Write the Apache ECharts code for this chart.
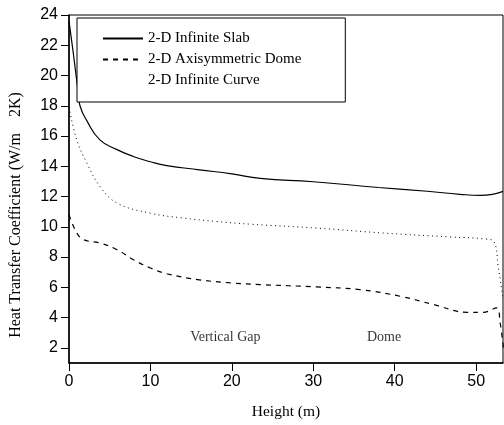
<!DOCTYPE html>
<html>
<head>
<meta charset="utf-8">
<script src="https://cdn.jsdelivr.net/npm/echarts@6/dist/echarts.min.js"></script>
<style>
  html, body { margin: 0; padding: 0; background: #fff; }
  #chart { width: 504px; height: 425px; }
</style>
</head>
<body>
<div id="chart"></div>
<script>
// values: height (m) and heat transfer coefficient
const slabX = [0, 0.5, 1.1, 1.35, 2.2, 3.8, 5.9, 7.9, 10, 12, 16, 20, 23.5, 30, 38, 44, 48, 50.5, 52, 53.3]
const slabY = [23.6, 21.6, 19.0, 18.0, 17.0, 15.75, 15.1, 14.65, 14.3, 14.05, 13.77, 13.5, 13.2, 12.98, 12.6, 12.35, 12.15, 12.08, 12.15, 12.34]

const domeX = [0, 0.95, 1.8, 3.8, 5.9, 7.9, 10, 12, 16, 20, 23.5, 30.4, 35.7, 40.7, 44.8, 48.9, 50.9, 52.5, 52.95, 53.35]
const domeY = [10.8, 9.6, 9.15, 8.93, 8.49, 7.83, 7.28, 6.9, 6.5, 6.29, 6.18, 6.03, 5.85, 5.41, 4.86, 4.35, 4.35, 4.64, 3.65, 2.0]

const curveX = [0, 0.95, 2.2, 3.8, 5.9, 10, 14, 18, 22.4, 30.4, 38.6, 46.8, 51.0, 52.2, 52.7, 53.15, 53.3]
const curveY = [17.9, 15.75, 14.2, 12.67, 11.57, 10.9, 10.58, 10.36, 10.17, 9.92, 9.59, 9.33, 9.2, 9.0, 7.4, 5.85, 5.2]

const xTicks = [0, 10, 20, 30, 40, 50]
const yTicks = [2, 4, 6, 8, 10, 12, 14, 16, 18, 20, 22, 24]

const notesX = [19.2, 38.7]
const notesY = [2.68, 2.68]
const notesText = ['Vertical Gap', 'Dome']

const names = ['2-D Infinite Slab', '2-D Axisymmetric Dome', '2-D Infinite Curve']

function pairs(xs, ys) {
  return xs.map((x, i) => [x, ys[i]])
}

const chart = echarts.init(document.getElementById('chart'))
const serif = 'Liberation Serif'
const sans = 'Liberation Sans'

const option = {
  animation: false,
  grid: {
    left: 69, right: 1, top: 15, bottom: 61.5,
    show: true, borderColor: '#000', borderWidth: 1
  },
  legend: {
    orient: 'vertical',
    left: 77, top: 18,
    padding: [13, 44, 14, 25],
    itemWidth: 40, itemHeight: 15, itemGap: 6,
    backgroundColor: '#fff',
    borderColor: '#000', borderWidth: 1,
    itemStyle: { opacity: 0 },
    textStyle: { fontFamily: serif, fontSize: 15, color: '#000' },
    data: [
      { name: names[0] },
      { name: names[1] },
      { name: names[2], lineStyle: { opacity: 0 } }
    ],
    selectedMode: false
  },
  xAxis: {
    type: 'value',
    min: 0, max: 53.3,
    name: 'Height (m)',
    nameLocation: 'middle',
    nameGap: 41,
    nameTextStyle: { fontFamily: serif, fontSize: 15.5, color: '#000' },
    axisLine: { lineStyle: { color: '#000', width: 1.5 } },
    axisTick: { inside: false, length: 8, customValues: xTicks, lineStyle: { color: '#000' } },
    axisLabel: { customValues: xTicks, margin: 11, fontFamily: sans, fontSize: 16, color: '#000' },
    splitLine: { show: false }
  },
  yAxis: {
    type: 'value',
    min: 1, max: 24,
    axisLine: { show: true, lineStyle: { color: '#000', width: 1.5 } },
    axisTick: { show: true, length: 8, customValues: yTicks, lineStyle: { color: '#000' } },
    axisLabel: { customValues: yTicks, margin: 11, fontFamily: sans, fontSize: 16, color: '#000' },
    splitLine: { show: false }
  },
  graphic: [
    {
      type: 'text',
      x: 16, y: 215,
      rotation: Math.PI / 2,
      style: {
        text: 'Heat Transfer Coefficient (W/m    2K)',
        fontFamily: serif, fontSize: 16, fill: '#000',
        align: 'center', verticalAlign: 'middle'
      }
    }
  ],
  series: [
    {
      name: names[0], type: 'line', symbol: 'none',
      smooth: 0.5,
      lineStyle: { color: '#000', width: 1.2, type: 'solid' },
      itemStyle: { color: '#000' },
      data: pairs(slabX, slabY)
    },
    {
      name: names[1], type: 'line', symbol: 'none',
      smooth: 0.4,
      lineStyle: { color: '#000', width: 1.2, type: [5, 5] },
      itemStyle: { color: '#000' },
      data: pairs(domeX, domeY)
    },
    {
      name: names[2], type: 'line', symbol: 'none',
      smooth: 0.4,
      lineStyle: { color: '#000', width: 1, type: [1, 3.5] },
      itemStyle: { color: '#000' },
      data: pairs(curveX, curveY)
    },
    {
      name: 'notes', type: 'scatter', symbolSize: 0, silent: true,
      label: {
        show: true, position: 'inside',
        fontFamily: serif, fontSize: 14, color: '#000',
        formatter: p => p.value[2]
      },
      data: notesX.map((x, i) => [x, notesY[i], notesText[i]])
    }
  ]
}

chart.setOption(option)
</script>
</body>
</html>
